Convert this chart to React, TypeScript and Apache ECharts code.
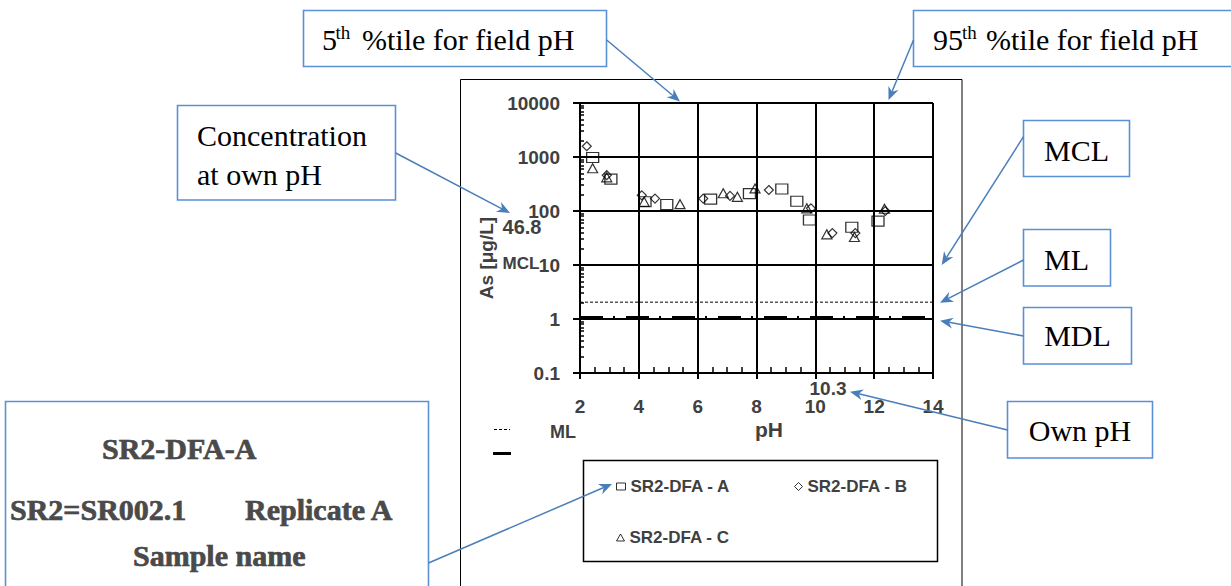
import React, { useEffect, useRef } from "react";
import * as echarts from "echarts";

// ---------- data ----------
const seriesNames = ["SR2-DFA - A", "SR2-DFA - B", "SR2-DFA - C"];
const phA = [2.43, 3.05, 4.21, 4.95, 6.44, 7.76, 8.86, 9.37, 9.8, 11.24, 12.13];
const asA = [980, 390, 148, 132, 166, 210, 256, 152, 68, 50, 65];
const phB = [2.23, 2.91, 4.1, 4.55, 6.19, 7.1, 8.42, 9.85, 10.58, 11.36, 12.38];
const asB = [1580, 460, 195, 170, 170, 190, 245, 112, 39, 39, 100];
const phC = [2.43, 2.91, 4.18, 5.4, 6.87, 7.35, 7.95, 9.71, 10.39, 11.33, 12.35];
const asC = [620, 420, 148, 134, 213, 183, 262, 112, 37, 33, 110];
const xRange = [2, 14];
const yRange = [0.1, 10000];
const mlValue = [2.05];
const mdlValue = [1.05];
const ownPH = ["10.3"];
const ownConc = ["46.8"];

const SANS = "'Liberation Sans', Arial, sans-serif";
const SERIF = "'Liberation Serif', 'Times New Roman', serif";
const GREY = "#404040";
const BLUE_LINE = "#4a7ebb";
const BLUE_BOX = "#5b8fd6";

function zip(xs: number[], ys: number[]) {
  return xs.map((x, i) => [x, ys[i]]);
}

function arrow(x1: number, y1: number, x2: number, y2: number) {
  const dx = x2 - x1;
  const dy = y2 - y1;
  const L = Math.hypot(dx, dy);
  const ux = dx / L;
  const uy = dy / L;
  const len = 13;
  const hw = 5.5;
  const notch = 4;
  const bx = x2 - ux * len;
  const by = y2 - uy * len;
  const px = -uy;
  const py = ux;
  const nx = x2 - ux * (len - notch);
  const ny = y2 - uy * (len - notch);
  return [
    {
      type: "line",
      shape: { x1, y1, x2: nx, y2: ny },
      style: { stroke: BLUE_LINE, lineWidth: 1.5 },
      z: 100,
    },
    {
      type: "polygon",
      shape: {
        points: [
          [x2, y2],
          [bx + px * hw, by + py * hw],
          [nx, ny],
          [bx - px * hw, by - py * hw],
        ],
      },
      style: { fill: BLUE_LINE },
      z: 100,
    },
  ];
}

function box(x: number, y: number, w: number, h: number) {
  return {
    type: "rect",
    shape: { x, y, width: w, height: h },
    style: { fill: "#fff", stroke: BLUE_BOX, lineWidth: 1.6 },
    z: 90,
  };
}

function serifText(text: string, x: number, y: number, size = 30, align = "left", extra: any = {}) {
  return {
    type: "text",
    x,
    y,
    z: 95,
    style: {
      text,
      fill: "#000",
      font: `${size}px ${SERIF}`,
      textAlign: align,
      textVerticalAlign: "middle",
      ...extra,
    },
  };
}

function sansText(text: string, x: number, y: number, size = 19, align = "center", rotation = 0) {
  return {
    type: "text",
    x,
    y,
    rotation,
    z: 95,
    style: {
      text,
      fill: GREY,
      font: `bold ${size}px ${SANS}`,
      textAlign: align,
      textVerticalAlign: "middle",
    },
  };
}

function boldSerif(text: string, x: number, y: number) {
  return {
    type: "text",
    x,
    y,
    z: 95,
    style: {
      text,
      fill: "#4a4a4a",
      stroke: "#2a2a2a",
      lineWidth: 0.6,
      font: `bold 30px ${SERIF}`,
      textAlign: "left",
      textVerticalAlign: "middle",
    },
  };
}

function fmtLog(v: number) {
  return v >= 1 ? String(Math.round(v)) : String(+v.toPrecision(2));
}

export default function App() {
  const ref = useRef<HTMLDivElement>(null);

  useEffect(() => {
    if (!ref.current) return;
    const chart = echarts.init(ref.current, undefined, { renderer: "svg" });

    const legendCommon = {
      orient: "horizontal",
      padding: 0,
      selectedMode: false,
      textStyle: { fontSize: 17, fontWeight: "bold", color: GREY, fontFamily: SANS },
      itemStyle: { color: "rgba(0,0,0,0)", borderColor: "#000", borderWidth: 1 },
    };

    const graphics: any[] = [
      // outer frame
      {
        type: "rect",
        shape: { x: 460.5, y: 79.5, width: 501.5, height: 530 },
        style: { fill: "none", stroke: "#000", lineWidth: 1 },
        z: 1,
      },
      // legend frame
      {
        type: "rect",
        shape: { x: 583.5, y: 460.5, width: 354, height: 101 },
        style: { fill: "none", stroke: "#000", lineWidth: 1.5 },
        z: 1,
      },
      // axis titles and notes
      sansText("As [\u03bcg/L]", 486, 258, 19, "center", Math.PI / 2),
      sansText("pH", 769, 429, 21),
      sansText(ownConc[0], 522, 227, 20),
      sansText("MCL", 521, 263, 17),
      sansText(ownPH[0], 828, 388, 19),
      sansText("ML", 563, 432, 18),
      {
        type: "line",
        shape: { x1: 494, y1: 429.5, x2: 510, y2: 429.5 },
        style: { stroke: "#000", lineWidth: 1, lineDash: [3, 2] },
      },
      {
        type: "line",
        shape: { x1: 493, y1: 453.5, x2: 511, y2: 453.5 },
        style: { stroke: "#000", lineWidth: 3 },
      },
      // annotation boxes
      box(303.5, 10.5, 303, 56),
      serifText("5", 322, 39),
      serifText("th", 335.5, 32, 19),
      serifText("%tile for field pH", 362, 39),
      box(913.5, 10.5, 330, 56),
      serifText("95", 933, 39),
      serifText("th", 962, 32, 19),
      serifText("%tile for field pH", 986, 39),
      box(177.5, 105.5, 218, 94.5),
      serifText("Concentration", 197, 135),
      serifText("at own pH", 197, 174),
      box(1023.5, 120.5, 106, 56),
      serifText("MCL", 1076.5, 150, 30, "center"),
      box(1023.5, 229.5, 87, 56.5),
      serifText("ML", 1066.5, 259, 30, "center"),
      box(1023.5, 307.5, 108, 56.5),
      serifText("MDL", 1077.5, 335, 30, "center"),
      box(1007.5, 401.5, 145, 56.5),
      serifText("Own pH", 1080, 430, 30, "center"),
      box(5.5, 401.5, 423, 200),
      boldSerif("SR2-DFA-A", 102, 448),
      boldSerif("SR2=SR002.1", 10, 509),
      boldSerif("Replicate A", 245, 509),
      boldSerif("Sample name", 133, 555),
      // arrows
      ...arrow(606.7, 40, 680, 101.5),
      ...arrow(913.5, 40, 888.5, 100),
      ...arrow(395.7, 153, 510, 213),
      ...arrow(1023.5, 136.7, 941.7, 265),
      ...arrow(1023.5, 260, 940, 302.7),
      ...arrow(1023.5, 336, 940, 320.7),
      ...arrow(1007.5, 430, 850, 391.7),
      ...arrow(428.5, 563, 612, 484),
    ];

    const axisLineStyle = { color: "#000", width: 2 };

    const option: any = {
      animation: false,
      grid: { left: 580, top: 103, width: 353, height: 270, containLabel: false },
      xAxis: [
        {
          type: "value",
          min: xRange[0],
          max: xRange[1],
          interval: 2,
          position: "bottom",
          axisLine: { show: true, onZero: false, lineStyle: axisLineStyle },
          axisTick: { show: true, length: 6, lineStyle: axisLineStyle },
          splitLine: { show: true, lineStyle: axisLineStyle },
          axisLabel: {
            margin: 24,
            fontSize: 19,
            fontWeight: "bold",
            color: GREY,
            fontFamily: SANS,
          },
        },
        {
          type: "value",
          min: xRange[0],
          max: xRange[1],
          interval: 2,
          position: "bottom",
          offset: 0,
          axisLine: { show: false, onZero: false },
          axisTick: { show: false, inside: true },
          minorTick: { show: true, splitNumber: 4, length: 6, lineStyle: { color: "#000", width: 1.5 } },
          splitLine: { show: false },
          axisLabel: { show: false },
        },
      ],
      yAxis: [
        {
          type: "log",
          logBase: 10,
          min: yRange[0],
          max: yRange[1],
          position: "left",
          axisLine: { show: true, onZero: false, lineStyle: axisLineStyle },
          axisTick: { show: true, length: 7, lineStyle: axisLineStyle },
          splitLine: { show: true, lineStyle: axisLineStyle },
          axisLabel: {
            margin: 20,
            fontSize: 19,
            fontWeight: "bold",
            color: GREY,
            fontFamily: SANS,
            formatter: fmtLog,
          },
        },
        {
          type: "log",
          logBase: 10,
          min: yRange[0],
          max: yRange[1],
          position: "left",
          offset: 0,
          axisLine: { show: false, onZero: false },
          axisTick: { show: false, inside: true },
          minorTick: { show: true, splitNumber: 9, length: 4, lineStyle: { color: "#000", width: 1.5 } },
          splitLine: { show: false },
          axisLabel: { show: false },
        },
      ],
      legend: [
        {
          ...legendCommon,
          data: [{ name: seriesNames[0], icon: "rect" }],
          left: 616,
          top: 478,
          itemWidth: 9,
          itemHeight: 7,
          itemGap: 5,
        },
        {
          ...legendCommon,
          data: [{ name: seriesNames[1], icon: "diamond" }],
          left: 794,
          top: 478,
          itemWidth: 8,
          itemHeight: 8,
        },
        {
          ...legendCommon,
          data: [{ name: seriesNames[2], icon: "triangle" }],
          left: 616,
          top: 529,
          itemWidth: 8,
          itemHeight: 7,
        },
      ],
      series: [
        {
          name: "ML",
          type: "line",
          data: xRange.map((x) => [x, mlValue[0]]),
          symbol: "none",
          silent: true,
          lineStyle: { color: "#000", width: 1, type: [3, 2] },
          z: 3,
        },
        {
          name: "MDL",
          type: "line",
          data: xRange.map((x) => [x, mdlValue[0]]),
          symbol: "none",
          silent: true,
          lineStyle: { color: "#000", width: 3.5, type: [23, 10, 2, 11], cap: "butt" },
          z: 3,
        },
        {
          name: seriesNames[0],
          type: "scatter",
          data: zip(phA, asA),
          symbol: "rect",
          symbolSize: [12, 10],
          itemStyle: { color: "rgba(0,0,0,0)", borderColor: "#000", borderWidth: 1.2 },
          z: 5,
        },
        {
          name: seriesNames[1],
          type: "scatter",
          data: zip(phB, asB),
          symbol: "diamond",
          symbolSize: [9, 9],
          itemStyle: { color: "rgba(0,0,0,0)", borderColor: "#000", borderWidth: 1.2 },
          z: 5,
        },
        {
          name: seriesNames[2],
          type: "scatter",
          data: zip(phC, asC),
          symbol: "triangle",
          symbolSize: [10, 9],
          itemStyle: { color: "rgba(0,0,0,0)", borderColor: "#000", borderWidth: 1.2 },
          z: 5,
        },
      ],
      graphic: graphics,
    };

    chart.setOption(option);
    return () => chart.dispose();
  }, []);

  return (
    <div
      ref={ref}
      style={{ position: "fixed", left: 0, top: 0, width: 1231, height: 586, background: "#fff" }}
    />
  );
}
